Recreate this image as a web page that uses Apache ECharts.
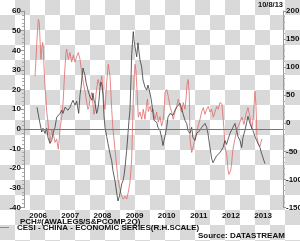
<!DOCTYPE html>
<html>
<head>
<meta charset="utf-8">
<script src="https://cdn.jsdelivr.net/npm/echarts@6/dist/echarts.min.js"></script>
<style>
  html, body {
    margin: 0;
    padding: 0;
    width: 300px;
    height: 241px;
    overflow: hidden;
    background: repeating-conic-gradient(#d9d9d9 0 25%, #ffffff 0 50%) 0 0 / 30px 30px;
  }
  #chart { width: 300px; height: 241px; }
</style>
</head>
<body>
<div id="chart"></div>
<script>
// PCH#(AWALEG$/S&PCOMP,2Q), left scale, dates as decimal years
const blackDates = [2006.464,2006.527,2006.558,2006.611,2006.651,2006.713,2006.766,2006.807,2006.869,2006.922,
  2006.962,2007.025,2007.077,2007.118,2007.180,2007.233,2007.273,2007.336,2007.429,2007.491,
  2007.544,2007.585,2007.647,2007.700,2007.740,2007.762,2007.802,2007.833,2007.865,2007.896,
  2007.927,2007.958,2007.989,2008.020,2008.051,2008.114,2008.176,2008.207,2008.238,2008.269,
  2008.322,2008.362,2008.394,2008.425,2008.456,2008.487,2008.518,2008.549,2008.580,2008.633,
  2008.674,2008.736,2008.789,2008.829,2008.891,2008.944,2008.985,2009.016,2009.047,2009.100,
  2009.140,2009.171,2009.203,2009.255,2009.296,2009.327,2009.358,2009.389,2009.411,2009.442,
  2009.461,2009.483,2009.514,2009.567,2009.607,2009.638,2009.669,2009.722,2009.763,2009.825,
  2009.878,2009.918,2009.980,2010.012,2010.043,2010.074,2010.105,2010.189,2010.229,2010.292,
  2010.344,2010.385,2010.416,2010.447,2010.500,2010.540,2010.603,2010.696,2010.758,2010.811,
  2010.852,2010.914,2010.967,2011.007,2011.069,2011.122,2011.163,2011.225,2011.278,2011.318,
  2011.381,2011.433,2011.474,2011.536,2011.589,2011.629,2011.692,2011.745,2011.785,2011.847,
  2011.900,2011.941,2012.003,2012.056,2012.096,2012.158,2012.252,2012.314,2012.361,2012.407,
  2012.470,2012.563,2012.625,2012.678,2012.718,2012.781,2012.834,2012.874,2012.936,2012.989,
  2013.030,2013.092,2013.138,2013.185,2013.247,2013.300,2013.341,2013.403,2013.456,2013.496,
  2013.559];
const blackValues = [11.0,5.4,2.8,-1.6,0.3,-2.3,0.3,-4.4,-7.4,-5.9,
  -2.3,0.8,5.9,6.9,7.9,9.5,7.9,11.0,9.5,11.0,
  13.1,14.6,12.1,14.1,14.6,7.9,17.2,20.8,26.4,31.0,
  29.0,27.4,23.8,21.8,19.7,16.2,14.6,18.2,14.6,13.1,
  7.9,10.5,14.6,20.8,23.8,22.3,17.2,6.9,0.8,-3.8,
  -7.4,-12.6,-16.2,-21.3,-26.4,-32.6,-36.7,-37.7,-33.1,-28.0,
  -26.4,-23.8,-19.7,-11.0,-2.3,4.4,9.5,24.9,37.7,45.4,
  49.5,45.4,41.8,36.7,43.8,39.2,35.1,31.5,24.9,21.3,
  19.7,22.3,18.2,15.6,12.1,7.9,4.4,3.3,0.8,-0.8,
  -4.4,-8.5,-5.9,-3.8,0.8,5.9,7.9,6.9,9.5,11.0,
  10.5,13.1,12.6,7.9,4.4,2.8,-0.8,-2.3,0.8,-4.4,
  -5.9,-2.3,-1.3,-0.8,0.8,0.3,2.8,0.8,-2.3,-9.5,
  -15.1,-17.2,-16.2,-13.6,-14.1,-12.1,-9.5,-5.9,-7.9,-7.4,
  -2.3,0.8,2.8,-0.8,-3.8,-5.9,-9.5,-4.4,-0.8,3.3,
  6.4,2.8,0.8,-0.8,-3.8,-5.9,-7.4,-9.5,-12.6,-14.6,
  -17.7];

// CESI - China - economic surprise index, right scale
const redDates = [2006.402,2006.433,2006.464,2006.505,2006.536,2006.558,2006.589,2006.611,2006.642,2006.661,
  2006.682,2006.713,2006.745,2006.766,2006.807,2006.847,2006.869,2006.922,2006.962,2007.025,
  2007.077,2007.127,2007.158,2007.180,2007.233,2007.264,2007.283,2007.305,2007.336,2007.367,
  2007.389,2007.438,2007.491,2007.544,2007.594,2007.647,2007.700,2007.750,2007.802,2007.855,
  2007.905,2007.958,2008.011,2008.051,2008.082,2008.114,2008.166,2008.207,2008.238,2008.269,
  2008.300,2008.362,2008.425,2008.478,2008.518,2008.549,2008.580,2008.611,2008.633,2008.683,
  2008.705,2008.736,2008.767,2008.789,2008.829,2008.860,2008.891,2008.944,2008.985,2009.047,
  2009.100,2009.150,2009.203,2009.255,2009.305,2009.358,2009.389,2009.411,2009.436,2009.461,
  2009.483,2009.514,2009.545,2009.576,2009.616,2009.669,2009.722,2009.772,2009.825,2009.878,
  2009.903,2009.927,2009.980,2010.033,2010.074,2010.136,2010.189,2010.239,2010.292,2010.344,
  2010.394,2010.431,2010.447,2010.500,2010.550,2010.603,2010.655,2010.705,2010.758,2010.811,
  2010.861,2010.914,2010.967,2011.016,2011.069,2011.100,2011.132,2011.172,2011.203,2011.225,
  2011.278,2011.328,2011.381,2011.433,2011.483,2011.536,2011.589,2011.639,2011.692,2011.745,
  2011.794,2011.847,2011.900,2011.950,2012.003,2012.056,2012.105,2012.158,2012.221,2012.283,
  2012.314,2012.376,2012.407,2012.438,2012.501,2012.532,2012.563,2012.625,2012.687,2012.781,
  2012.843,2012.905,2012.967,2013.030,2013.092,2013.154,2013.201,2013.247,2013.278,2013.310,
  2013.356,2013.403,2013.465];
const redValues = [84,114,149,185,180,149,114,132,144,132,
  101,66,43,21,2,-23,-34,-11,-16,-34,
  -28,-46,-28,-11,12,30,43,69,101,126,
  132,114,126,109,121,109,119,126,114,91,
  73,57,37,25,30,43,55,34,16,25,
  52,78,66,84,60,37,25,52,73,105,
  96,84,52,25,-11,-28,-46,-76,-100,-117,
  -130,-135,-130,-135,-123,-105,-82,-64,-11,43,
  78,105,93,60,11,20,7,25,7,34,
  43,21,30,20,25,7,20,2,12,-5,
  7,34,55,60,48,30,20,7,20,30,
  43,30,20,37,25,43,69,78,52,-28,
  -52,-41,-28,-16,-5,7,20,28,16,25,
  30,20,25,11,20,30,25,37,34,-11,
  -41,-59,-82,-91,-82,-64,-46,-28,-11,2,
  11,-2,16,28,11,-11,16,57,34,-25,
  -37,-41,-28];

// year labels sit in the middle of each year
const yearLabels = [2006.5, 2007.5, 2008.5, 2009.5, 2010.5, 2011.5, 2012.5, 2013.5];

const FONT = 'Liberation Sans, Arial, sans-serif';
const chart = echarts.init(document.getElementById('chart'));

const axisText = {
  color: '#111',
  fontFamily: FONT,
  fontWeight: 'bold',
  fontSize: 8,
};

chart.setOption({
  animation: false,
  grid: { left: 24, right: 17, top: 11, bottom: 33.5, containLabel: false, outerBoundsMode: 'none' },
  xAxis: {
    type: 'value',
    min: 2006.06,
    max: 2014.12,
    axisLine: { show: false },
    axisTick: { show: false },
    splitLine: { show: false },
    axisLabel: {
      ...axisText,
      customValues: yearLabels,
      formatter: (v) => String(Math.floor(v)),
      margin: 4,
      hideOverlap: false,
    },
  },
  yAxis: [
    {
      type: 'value',
      position: 'left',
      min: -40,
      max: 60,
      interval: 10,
      splitLine: { show: false },
      axisLine: { show: true, lineStyle: { color: '#999', width: 1 } },
      axisTick: { show: true, length: 3, lineStyle: { color: '#999' } },
      minorTick: { show: true, splitNumber: 5, length: 2, lineStyle: { color: '#aaa' } },
      axisLabel: { ...axisText, margin: 3, showMinLabel: true, showMaxLabel: true, hideOverlap: false },
    },
    {
      type: 'value',
      position: 'right',
      min: -150,
      max: 200,
      interval: 50,
      splitLine: { show: false },
      axisLine: { show: true, lineStyle: { color: '#999', width: 1 } },
      axisTick: { show: true, length: 3, lineStyle: { color: '#999' } },
      minorTick: { show: true, splitNumber: 5, length: 2, lineStyle: { color: '#aaa' } },
      axisLabel: { ...axisText, margin: 3, showMinLabel: true, showMaxLabel: true, hideOverlap: false },
    },
  ],
  series: [
    {
      name: 'CESI - CHINA - ECONOMIC SERIES(R.H.SCALE)',
      type: 'line',
      yAxisIndex: 1,
      showSymbol: false,
      lineStyle: { color: '#e06a6a', width: 0.8 },
      data: redDates.map((d, i) => [d, redValues[i]]),
    },
    {
      name: 'PCH#(AWALEG$/S&PCOMP,2Q)',
      type: 'line',
      yAxisIndex: 0,
      showSymbol: false,
      lineStyle: { color: '#3a3a3a', width: 0.8 },
      data: blackDates.map((d, i) => [d, blackValues[i]]),
      markLine: {
        silent: true,
        symbol: 'none',
        label: { show: false },
        lineStyle: { color: '#777', type: 'solid', width: 1 },
        data: [{ yAxis: 0 }],
      },
    },
  ],
  graphic: [
    {
      type: 'text',
      style: { x: 283, y: 5, text: '10/8/13', textAlign: 'right', textVerticalAlign: 'middle',
        font: 'bold 7.5px ' + FONT, fill: '#111' },
    },
    {
      type: 'text',
      style: { x: 20, y: 222, text: 'PCH#(AWALEG$/S&PCOMP,2Q)', textAlign: 'left', textVerticalAlign: 'middle',
        font: 'bold 8px ' + FONT, fill: '#111' },
    },
    {
      type: 'line',
      shape: { x1: 0, y1: 227.5, x2: 9, y2: 227.5 },
      style: { stroke: '#e06a6a', lineWidth: 1 },
    },
    {
      type: 'text',
      style: { x: 17, y: 228, text: 'CESI - CHINA - ECONOMIC SERIES(R.H.SCALE)', textAlign: 'left', textVerticalAlign: 'middle',
        font: 'bold 8px ' + FONT, fill: '#111' },
    },
    {
      type: 'text',
      style: { x: 198, y: 236, text: 'Source: DATASTREAM', textAlign: 'left', textVerticalAlign: 'middle',
        font: 'bold 8px ' + FONT, fill: '#111' },
    },
  ],
});
</script>
</body>
</html>
